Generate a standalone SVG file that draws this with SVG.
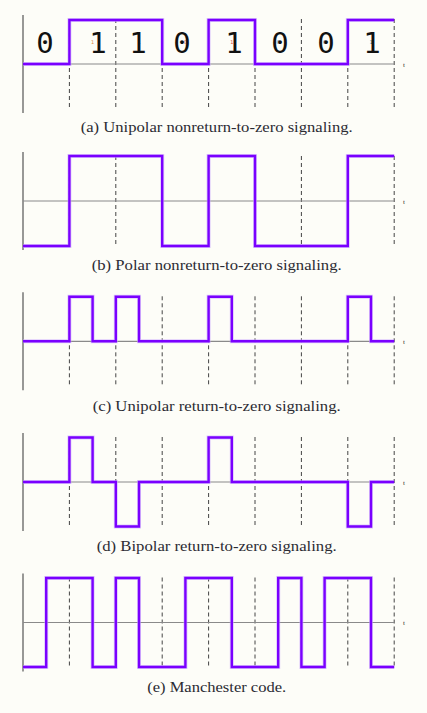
<svg xmlns="http://www.w3.org/2000/svg" width="427" height="713" viewBox="0 0 427 713">
<defs>
<style>
.bg{fill:#fdfdf8}
.vax{stroke:#555;stroke-width:1.2;fill:none}
.hax{stroke:#8a8a8a;stroke-width:1.2;fill:none}
.dash{stroke:#444;stroke-width:1;stroke-dasharray:4 3;fill:none}
.wave{stroke:#7a00ff;stroke-width:2.4;fill:none;stroke-linejoin:miter}
.halo{stroke:#c9a6ff;stroke-width:4;fill:none;opacity:0.6}
.cap{font-family:"Liberation Serif","DejaVu Serif",serif;font-size:14.5px;fill:#2b2b33;text-anchor:middle}
.t{font-family:"Liberation Serif",serif;font-size:7px;fill:#333}
.big{font-family:"DejaVu Sans Mono","Liberation Mono",monospace;font-size:29px;fill:#111;text-anchor:middle}
.tiny{font-family:"DejaVu Sans",sans-serif;font-size:5px;text-anchor:middle}
</style>
<g id="grid">
<path class="dash" d="M69.4,-45V45M115.8,-45V45M162.2,-45V45M208.6,-45V45M255,-45V45M301.4,-45V45M347.8,-45V45M394.2,-45V45"/>
<path class="vax" d="M23,-49V49"/>
<path class="hax" d="M23,0H394.2"/>
<text class="t" x="403" y="2.5">t</text>
</g>
</defs>
<rect class="bg" width="427" height="713"/>

<g id="panel-a">
<use href="#grid" transform="translate(0,64)"/>
<g id="conn-a">
<path class="halo" d="M23,64H69.4V20H162.2V64H208.6V20H255V64H347.8V20H394.2"/>
<path class="wave" d="M23,64H69.4V20H162.2V64H208.6V20H255V64H347.8V20H394.2"/>
</g>
<text class="tiny" x="46.2" y="44" fill="#e08a40">0</text>
<text class="tiny" x="92.6" y="44" fill="#e08a40">1</text>
<text class="tiny" x="139" y="44" fill="#4a7ac8">1</text>
<text class="tiny" x="185.4" y="44" fill="#d84848">0</text>
<text class="tiny" x="231.8" y="44" fill="#d84848">1</text>
<text class="tiny" x="278.2" y="44" fill="#4a7ac8">0</text>
<text class="tiny" x="324.6" y="44" fill="#4a7ac8">0</text>
<text class="tiny" x="371" y="44" fill="#3a8ad8">1</text>
<text class="big" x="45" y="53">0</text>
<text class="big" x="98" y="53">1</text>
<text class="big" x="138" y="53">1</text>
<text class="big" x="182" y="53">0</text>
<text class="big" x="234" y="53">1</text>
<text class="big" x="280" y="53">0</text>
<text class="big" x="326" y="53">0</text>
<text class="big" x="372" y="53">1</text>
<text class="cap" x="216.7" y="132" textLength="272" lengthAdjust="spacingAndGlyphs">(a) Unipolar nonreturn-to-zero signaling.</text>
</g>

<g id="panel-b">
<use href="#grid" transform="translate(0,201)"/>
<g id="conn-b">
<path class="halo" d="M23,246H69.4V156H162.2V246H208.6V156H255V246H347.8V156H394.2"/>
<path class="wave" d="M23,246H69.4V156H162.2V246H208.6V156H255V246H347.8V156H394.2"/>
</g>
<text class="cap" x="216.7" y="270" textLength="250" lengthAdjust="spacingAndGlyphs">(b) Polar nonreturn-to-zero signaling.</text>
</g>

<g id="panel-c">
<use href="#grid" transform="translate(0,341.3)"/>
<g id="conn-c">
<path class="halo" d="M23,341.3H69.4V296.8H92.6V341.3H115.8V296.8H139V341.3H208.6V296.8H231.8V341.3H347.8V296.8H371V341.3H394.2"/>
<path class="wave" d="M23,341.3H69.4V296.8H92.6V341.3H115.8V296.8H139V341.3H208.6V296.8H231.8V341.3H347.8V296.8H371V341.3H394.2"/>
</g>
<text class="cap" x="216.7" y="410.5" textLength="248" lengthAdjust="spacingAndGlyphs">(c) Unipolar return-to-zero signaling.</text>
</g>

<g id="panel-d">
<use href="#grid" transform="translate(0,482)"/>
<g id="conn-d">
<path class="halo" d="M23,482H69.4V437.5H92.6V482H115.8V526.5H139V482H208.6V437.5H231.8V482H347.8V526.5H371V482H394.2"/>
<path class="wave" d="M23,482H69.4V437.5H92.6V482H115.8V526.5H139V482H208.6V437.5H231.8V482H347.8V526.5H371V482H394.2"/>
</g>
<text class="cap" x="216.7" y="550.5" textLength="240" lengthAdjust="spacingAndGlyphs">(d) Bipolar return-to-zero signaling.</text>
</g>

<g id="panel-e">
<use href="#grid" transform="translate(0,622.5)"/>
<g id="conn-e">
<path class="halo" d="M23,667H46.2V578H92.6V667H115.8V578H139V667H185.4V578H231.8V667H278.2V578H301.4V667H324.6V578H371V667H394.2"/>
<path class="wave" d="M23,667H46.2V578H92.6V667H115.8V578H139V667H185.4V578H231.8V667H278.2V578H301.4V667H324.6V578H371V667H394.2"/>
</g>
<text class="cap" x="216.7" y="691.5" textLength="139" lengthAdjust="spacingAndGlyphs">(e) Manchester code.</text>
</g>
</svg>
